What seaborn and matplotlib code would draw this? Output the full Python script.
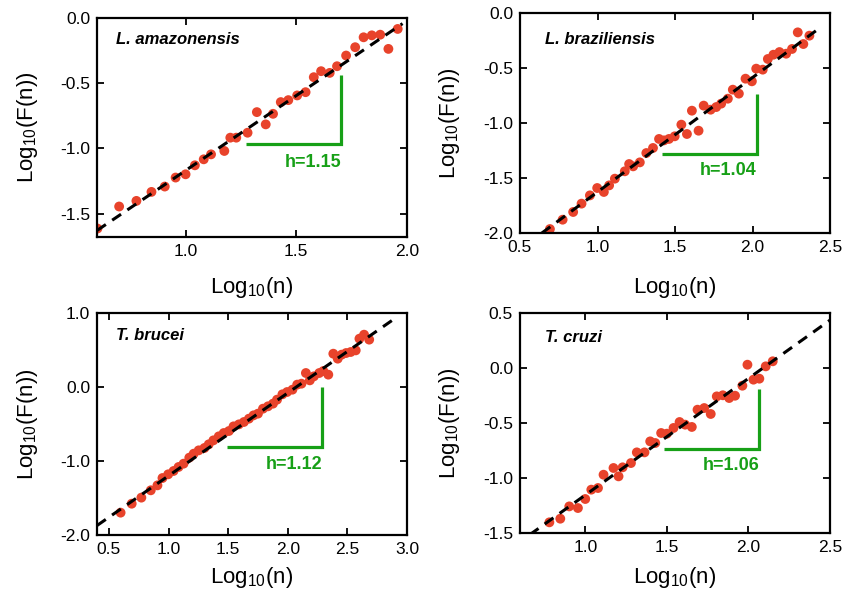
import numpy as np
import pandas as pd
import matplotlib
matplotlib.use("Agg")
import matplotlib.pyplot as plt
import seaborn as sns

# ---------------- data ----------------
titles = ["L. amazonensis", "L. braziliensis", "T. brucei", "T. cruzi"]
h_labels = ["h=1.15", "h=1.04", "h=1.12", "h=1.06"]

amaz_x = [0.602, 0.70, 0.778, 0.846, 0.906, 0.955, 1.0, 1.042, 1.082, 1.115, 1.175, 1.202,
          1.229, 1.280, 1.322, 1.362, 1.395, 1.430, 1.464, 1.504, 1.542, 1.579, 1.612, 1.651,
          1.684, 1.725, 1.766, 1.804, 1.841, 1.879, 1.916, 1.958]
amaz_y = [-1.615, -1.446, -1.403, -1.334, -1.293, -1.224, -1.199, -1.130, -1.084, -1.046, -1.020, -0.918,
          -0.918, -0.880, -0.722, -0.816, -0.735, -0.645, -0.630, -0.594, -0.569, -0.454, -0.408, -0.421,
          -0.370, -0.288, -0.224, -0.148, -0.133, -0.128, -0.237, -0.084]

braz_x = [0.693, 0.775, 0.843, 0.897, 0.951, 0.998, 1.041, 1.075, 1.112, 1.176, 1.204, 1.230,
          1.273, 1.315, 1.358, 1.397, 1.429, 1.461, 1.498, 1.541, 1.577, 1.609, 1.652, 1.685,
          1.730, 1.766, 1.798, 1.841, 1.873, 1.912, 1.955, 1.996, 2.024, 2.066, 2.099, 2.135,
          2.174, 2.217, 2.255, 2.292, 2.328, 2.367]
braz_y = [-1.964, -1.879, -1.809, -1.733, -1.658, -1.591, -1.627, -1.567, -1.506, -1.439, -1.373, -1.394,
          -1.358, -1.273, -1.227, -1.145, -1.158, -1.145, -1.121, -1.015, -1.100, -0.888, -1.070, -0.842,
          -0.879, -0.855, -0.824, -0.779, -0.697, -0.733, -0.597, -0.621, -0.506, -0.515, -0.418, -0.379,
          -0.355, -0.370, -0.327, -0.176, -0.282, -0.206]

bruc_x = [0.598, 0.691, 0.772, 0.851, 0.907, 0.949, 0.997, 1.042, 1.084, 1.126, 1.174, 1.211,
          1.253, 1.301, 1.337, 1.376, 1.421, 1.463, 1.506, 1.545, 1.590, 1.632, 1.674, 1.713,
          1.750, 1.792, 1.834, 1.876, 1.910, 1.955, 1.994, 2.039, 2.079, 2.115, 2.152, 2.185,
          2.219, 2.264, 2.298, 2.340, 2.382, 2.419, 2.452, 2.489, 2.528, 2.570, 2.601, 2.640, 2.683]
bruc_y = [-1.698, -1.577, -1.495, -1.396, -1.329, -1.230, -1.180, -1.135, -1.081, -1.036, -0.955, -0.901,
          -0.856, -0.824, -0.775, -0.721, -0.667, -0.622, -0.595, -0.532, -0.505, -0.473, -0.428, -0.383,
          -0.360, -0.293, -0.261, -0.225, -0.171, -0.099, -0.068, -0.036, 0.032, 0.045, 0.189, 0.090,
          0.144, 0.189, 0.216, 0.167, 0.450, 0.383, 0.437, 0.459, 0.473, 0.495, 0.653, 0.707, 0.640]

cruz_x = [0.780, 0.847, 0.902, 0.955, 1.0, 1.037, 1.078, 1.112, 1.173, 1.204, 1.229, 1.280,
          1.316, 1.363, 1.398, 1.429, 1.465, 1.500, 1.541, 1.578, 1.612, 1.653, 1.688, 1.729,
          1.769, 1.806, 1.843, 1.882, 1.918, 1.963, 1.994, 2.031, 2.067, 2.106, 2.149]
cruz_y = [-1.403, -1.370, -1.258, -1.273, -1.191, -1.106, -1.091, -0.970, -0.909, -0.985, -0.903, -0.864,
          -0.767, -0.767, -0.667, -0.682, -0.591, -0.597, -0.545, -0.491, -0.515, -0.536, -0.379, -0.364,
          -0.418, -0.258, -0.248, -0.273, -0.252, -0.161, 0.030, -0.106, -0.097, 0.015, 0.061]

# fitted lines: slope, intercept, x-extent
fit_slope = [1.15, 1.04, 1.12, 1.06]
fit_icpt = [-2.32, -2.667, -2.32, -2.215]
fit_xmin = [0.60, 0.64, 0.40, 0.66]
fit_xmax = [1.98, 2.43, 2.92, 2.50]

# slope triangles
tri_x0 = [1.272, 1.416, 1.489, 1.480]
tri_x1 = [1.703, 2.028, 2.289, 2.065]
tri_y0 = [-0.964, -1.279, -0.811, -0.733]
tri_y1 = [-0.441, -0.736, 0.0, -0.188]
h_text_y = [-1.11, -1.43, -1.045, -0.885]

# axes
xlims = [(0.6, 2.0), (0.5, 2.5), (0.4, 3.0), (0.6, 2.5)]
ylims = [(-1.68, 0.0), (-2.0, 0.0), (-2.0, 1.0), (-1.5, 0.5)]
xticks = [[1.0, 1.5, 2.0], [0.5, 1.0, 1.5, 2.0, 2.5], [0.5, 1.0, 1.5, 2.0, 2.5, 3.0], [1.0, 1.5, 2.0, 2.5]]
yticks = [[-1.5, -1.0, -0.5, 0.0], [-2.0, -1.5, -1.0, -0.5, 0.0], [-2.0, -1.0, 0.0, 1.0],
          [-1.5, -1.0, -0.5, 0.0, 0.5]]

xs = [amaz_x, braz_x, bruc_x, cruz_x]
ys = [amaz_y, braz_y, bruc_y, cruz_y]

# ---------------- style ----------------
sns.set_style("ticks")
plt.rcParams['font.family'] = ['Liberation Sans', 'DejaVu Sans']
plt.rcParams['mathtext.default'] = 'regular'
plt.rcParams['text.color'] = 'black'
plt.rcParams['axes.labelcolor'] = 'black'
plt.rcParams['xtick.color'] = 'black'
plt.rcParams['ytick.color'] = 'black'
plt.rcParams['axes.edgecolor'] = 'black'

RED = '#E8432B'
GREEN = '#17A017'

fig = plt.figure(figsize=(8.44, 5.93), dpi=100)
W, H = 844, 593
boxes = [(97, 407, 18, 237), (520, 830, 13, 233), (97, 407, 313, 535), (520, 830, 313, 533)]
xlab_y = [287, 287, 577, 577]
label_pos = [(0.06, 0.90), (0.08, 0.88), (0.06, 0.90), (0.08, 0.89)]

for i in range(4):
    l, r, t, b = boxes[i]
    ax = fig.add_axes([l / W, 1 - b / H, (r - l) / W, (b - t) / H])
    df = pd.DataFrame({'x': xs[i], 'y': ys[i]})
    fx = np.array([fit_xmin[i], fit_xmax[i]])
    fdf = pd.DataFrame({'x': fx, 'y': fit_slope[i] * fx + fit_icpt[i]})
    sns.scatterplot(data=df, x='x', y='y', ax=ax, color=RED, s=50, edgecolor='none', zorder=2)
    sns.lineplot(data=fdf, x='x', y='y', ax=ax, color='black', lw=2.2, zorder=3)
    ax.lines[-1].set_dashes([3.5, 2.5])
    ax.plot([tri_x0[i], tri_x1[i], tri_x1[i]], [tri_y0[i], tri_y0[i], tri_y1[i]],
            color=GREEN, lw=2.3, solid_capstyle='butt', solid_joinstyle='miter', zorder=4)
    ax.text(tri_x1[i], h_text_y[i], h_labels[i], color=GREEN, fontsize=13, fontweight='bold',
            ha='right', va='center')
    ax.text(label_pos[i][0], label_pos[i][1], titles[i], transform=ax.transAxes, fontsize=12,
            fontweight='bold', fontstyle='italic', ha='left', va='center', color='black')
    ax.set_xlim(*xlims[i])
    ax.set_ylim(*ylims[i])
    ax.set_xticks(xticks[i])
    ax.set_yticks(yticks[i])
    ax.set_xticklabels([f"{v:.1f}" for v in xticks[i]])
    ax.set_yticklabels([f"{v:.1f}" for v in yticks[i]])
    ax.tick_params(direction='in', length=5, width=1.3, top=True, right=True, labelsize=12.5, pad=5,
                   colors='black')
    for sp in ax.spines.values():
        sp.set_linewidth(1.6)
        sp.set_color('black')
        sp.set_visible(True)
    ax.set_xlabel(r'Log$_{10}$(n)', fontsize=16, va='center', color='black')
    ax.set_ylabel(r'Log$_{10}$(F(n))', fontsize=16, va='center', color='black')
    ax.xaxis.set_label_coords(0.5, (b - xlab_y[i]) / (b - t))
    ax.yaxis.set_label_coords((27 - 97) / 310, 0.5)

fig.savefig('out.png', dpi=100)
